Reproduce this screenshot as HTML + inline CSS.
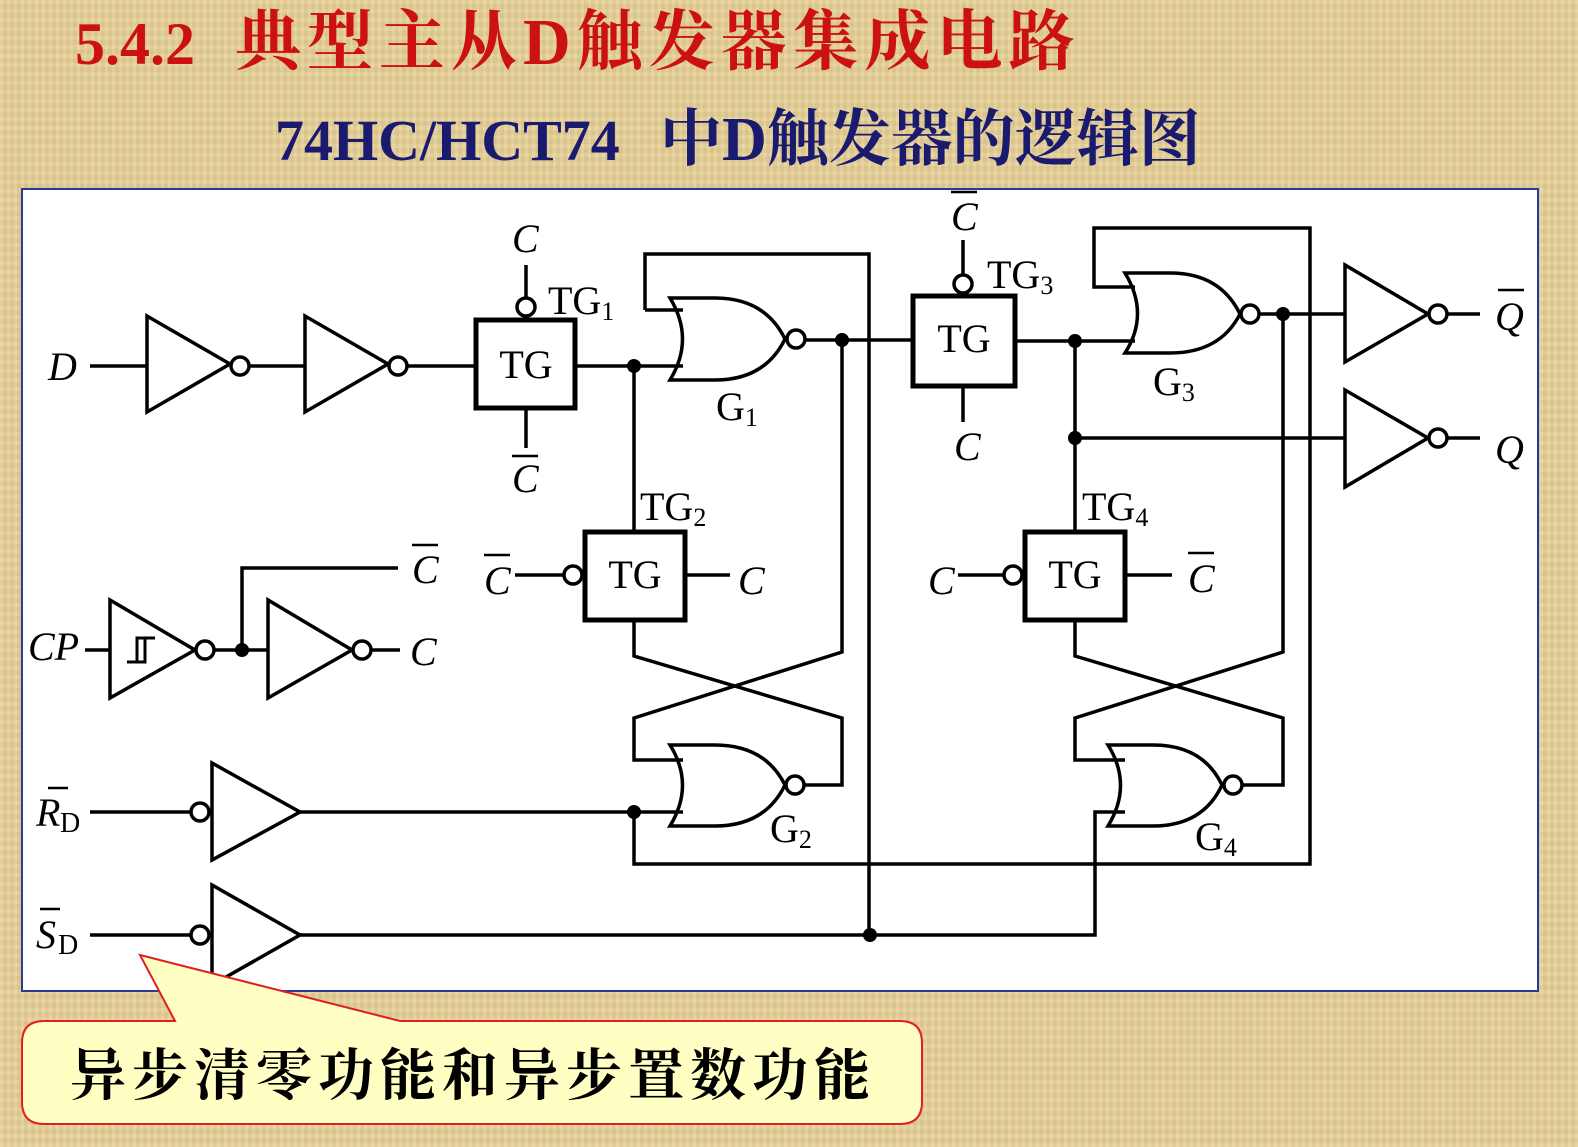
<!DOCTYPE html>
<html><head><meta charset="utf-8"><style>
html,body{margin:0;padding:0;}
body{width:1578px;height:1147px;overflow:hidden;background:#e7d197;
background-image:repeating-linear-gradient(90deg,rgba(255,255,255,0.06) 0 3px,rgba(0,0,0,0.03) 3px 7px),repeating-linear-gradient(0deg,rgba(255,255,255,0.05) 0 4px,rgba(0,0,0,0.03) 4px 9px);}
svg{position:absolute;left:0;top:0;}
text{font-family:"Liberation Serif","Noto Serif CJK SC",serif;}
</style></head><body>
<svg width="1578" height="1147" viewBox="0 0 1578 1147" xmlns="http://www.w3.org/2000/svg">
<text x="75" y="64" font-size="60" font-weight="bold" fill="#cc1111">5.4.2 <tspan x="235" font-size="66" letter-spacing="6">典型主从D触发器集成电路</tspan></text>
<text x="275" y="160" font-size="58" font-weight="bold" fill="#1a1a6e">74HC/HCT74 <tspan x="660" font-size="62" letter-spacing="0">中D触发器的逻辑图</tspan></text>
<rect x="22" y="189" width="1516" height="802" fill="#fff" stroke="#2a3a9a" stroke-width="2"/>
<g stroke="#000" stroke-width="3.5" fill="none">
<path d="M90 366H147M249 366H305M407 366H476"/>
<path d="M147 316V412L230 364Z"/><circle cx="240" cy="366" r="9" fill="#fff"/>
<path d="M305 316V412L388 364Z"/><circle cx="398" cy="366" r="9" fill="#fff"/>
<rect x="476" y="320" width="99" height="88" stroke-width="5"/>
<path d="M526 265V298M526 408V448"/><circle cx="526" cy="307" r="9" fill="#fff"/>
<path d="M575 366H683M645 310H683M645 310V254H869V935"/>
<path d="M634 366V532"/>
<path d="M670 298H715Q765 298 785 339Q765 380 715 380H670Q695 339 670 298Z"/><circle cx="796" cy="339" r="9" fill="#fff"/>
<path d="M805 340H913"/>
<path d="M842 340V652L634 718V760H683"/>
<path d="M634 622V656L842 718V785H804"/>
<rect x="585" y="532" width="100" height="88" stroke-width="5"/>
<path d="M515 575H564M685 575H730"/><circle cx="573" cy="575" r="9" fill="#fff"/>
<path d="M670 745H715Q765 745 785 785Q765 826 715 826H670Q695 785 670 745Z"/><circle cx="795" cy="785" r="9" fill="#fff"/>
<path d="M90 812H191"/><circle cx="200" cy="812" r="9" fill="#fff"/>
<path d="M212 763V860L300 812Z"/>
<path d="M300 812H683M634 812V864H1310V228H1094V287H1135"/>
<path d="M90 935H191"/><circle cx="200" cy="935" r="9" fill="#fff"/>
<path d="M212 885V985L300 935Z"/>
<path d="M300 935H1095V812H1125"/>
<path d="M85 650H110"/>
<path d="M110 600V698L195 650Z"/><circle cx="205" cy="650" r="9" fill="#fff"/>
<path d="M127 662H137V638H155M137 662H145V638" stroke-width="3"/>
<path d="M214 650H268M242 650V568H398"/>
<path d="M268 600V698L352 650Z"/><circle cx="362" cy="650" r="9" fill="#fff"/>
<path d="M371 650H400"/>
<rect x="913" y="296" width="102" height="90" stroke-width="5"/>
<path d="M963 240V275M963 386V422"/><circle cx="963" cy="284" r="9" fill="#fff"/>
<path d="M1015 341H1135M1075 341V532M1075 438H1345"/>
<path d="M1125 273H1170Q1220 273 1240 314Q1220 353 1170 353H1125Q1150 314 1125 273Z"/><circle cx="1250" cy="314" r="9" fill="#fff"/>
<path d="M1259 314H1345"/>
<path d="M1283 314V652L1075 718V760H1125"/>
<path d="M1075 622V656L1283 718V785H1242"/>
<rect x="1025" y="532" width="100" height="88" stroke-width="5"/>
<path d="M958 575H1004M1125 575H1172"/><circle cx="1013" cy="575" r="9" fill="#fff"/>
<path d="M1108 745H1153Q1203 745 1222 785Q1203 826 1153 826H1108Q1133 785 1108 745Z"/><circle cx="1233" cy="785" r="9" fill="#fff"/>
<path d="M1345 265V362L1428 314Z"/><circle cx="1438" cy="314" r="9" fill="#fff"/><path d="M1447 314H1480"/>
<path d="M1345 390V487L1428 438Z"/><circle cx="1438" cy="438" r="9" fill="#fff"/><path d="M1447 438H1480"/>
</g>
<g fill="#000">
<circle cx="634" cy="366" r="7"/><circle cx="842" cy="340" r="7"/><circle cx="634" cy="812" r="7"/>
<circle cx="870" cy="935" r="7"/><circle cx="242" cy="650" r="7"/><circle cx="1075" cy="341" r="7"/>
<circle cx="1075" cy="438" r="7"/><circle cx="1283" cy="314" r="7"/>
</g>
<g font-size="40" fill="#000">
<text x="526" y="378" text-anchor="middle">TG</text>
<text x="635" y="588" text-anchor="middle">TG</text>
<text x="964" y="352" text-anchor="middle">TG</text>
<text x="1075" y="588" text-anchor="middle">TG</text>
<g font-style="italic">
<text x="48" y="380">D</text>
<text x="512" y="252">C</text>
<text x="512" y="492">C</text><path d="M512 456H538" stroke="#000" stroke-width="2.5"/>
<text x="484" y="594">C</text><path d="M484 555H510" stroke="#000" stroke-width="2.5"/>
<text x="738" y="594">C</text>
<text x="28" y="660">CP</text>
<text x="412" y="583">C</text><path d="M412 545H438" stroke="#000" stroke-width="2.5"/>
<text x="410" y="665">C</text>
<text x="951" y="230">C</text><path d="M951 192H977" stroke="#000" stroke-width="2.5"/>
<text x="954" y="460">C</text>
<text x="928" y="594">C</text>
<text x="1188" y="592">C</text><path d="M1188 553H1214" stroke="#000" stroke-width="2.5"/>
<text x="1495" y="330">Q</text><path d="M1498 290H1524" stroke="#000" stroke-width="2.5"/>
<text x="1495" y="463">Q</text>
<text x="36" y="826">R</text><path d="M48 788H68" stroke="#000" stroke-width="2.5"/>
<text x="36" y="948">S</text><path d="M40 909H60" stroke="#000" stroke-width="2.5"/>
</g>
<text x="60" y="832" font-size="28">D</text>
<text x="58" y="954" font-size="28">D</text>
<text x="548" y="314">TG<tspan font-size="26" dy="6">1</tspan></text>
<text x="640" y="520">TG<tspan font-size="26" dy="6">2</tspan></text>
<text x="987" y="288">TG<tspan font-size="26" dy="6">3</tspan></text>
<text x="1082" y="520">TG<tspan font-size="26" dy="6">4</tspan></text>
<text x="716" y="420">G<tspan font-size="26" dy="6">1</tspan></text>
<text x="770" y="842">G<tspan font-size="26" dy="6">2</tspan></text>
<text x="1153" y="395">G<tspan font-size="26" dy="6">3</tspan></text>
<text x="1195" y="850">G<tspan font-size="26" dy="6">4</tspan></text>
</g>
<path d="M140 955L400 1021H900Q922 1021 922 1043V1102Q922 1124 900 1124H44Q22 1124 22 1102V1043Q22 1021 44 1021H175Z" fill="#ffffc4" stroke="#e02020" stroke-width="2"/>
<text x="70" y="1095" font-size="56" fill="#000" font-weight="bold" letter-spacing="6" font-family="'Noto Sans CJK SC',sans-serif">异步清零功能和异步置数功能</text>
</svg>
</body></html>
